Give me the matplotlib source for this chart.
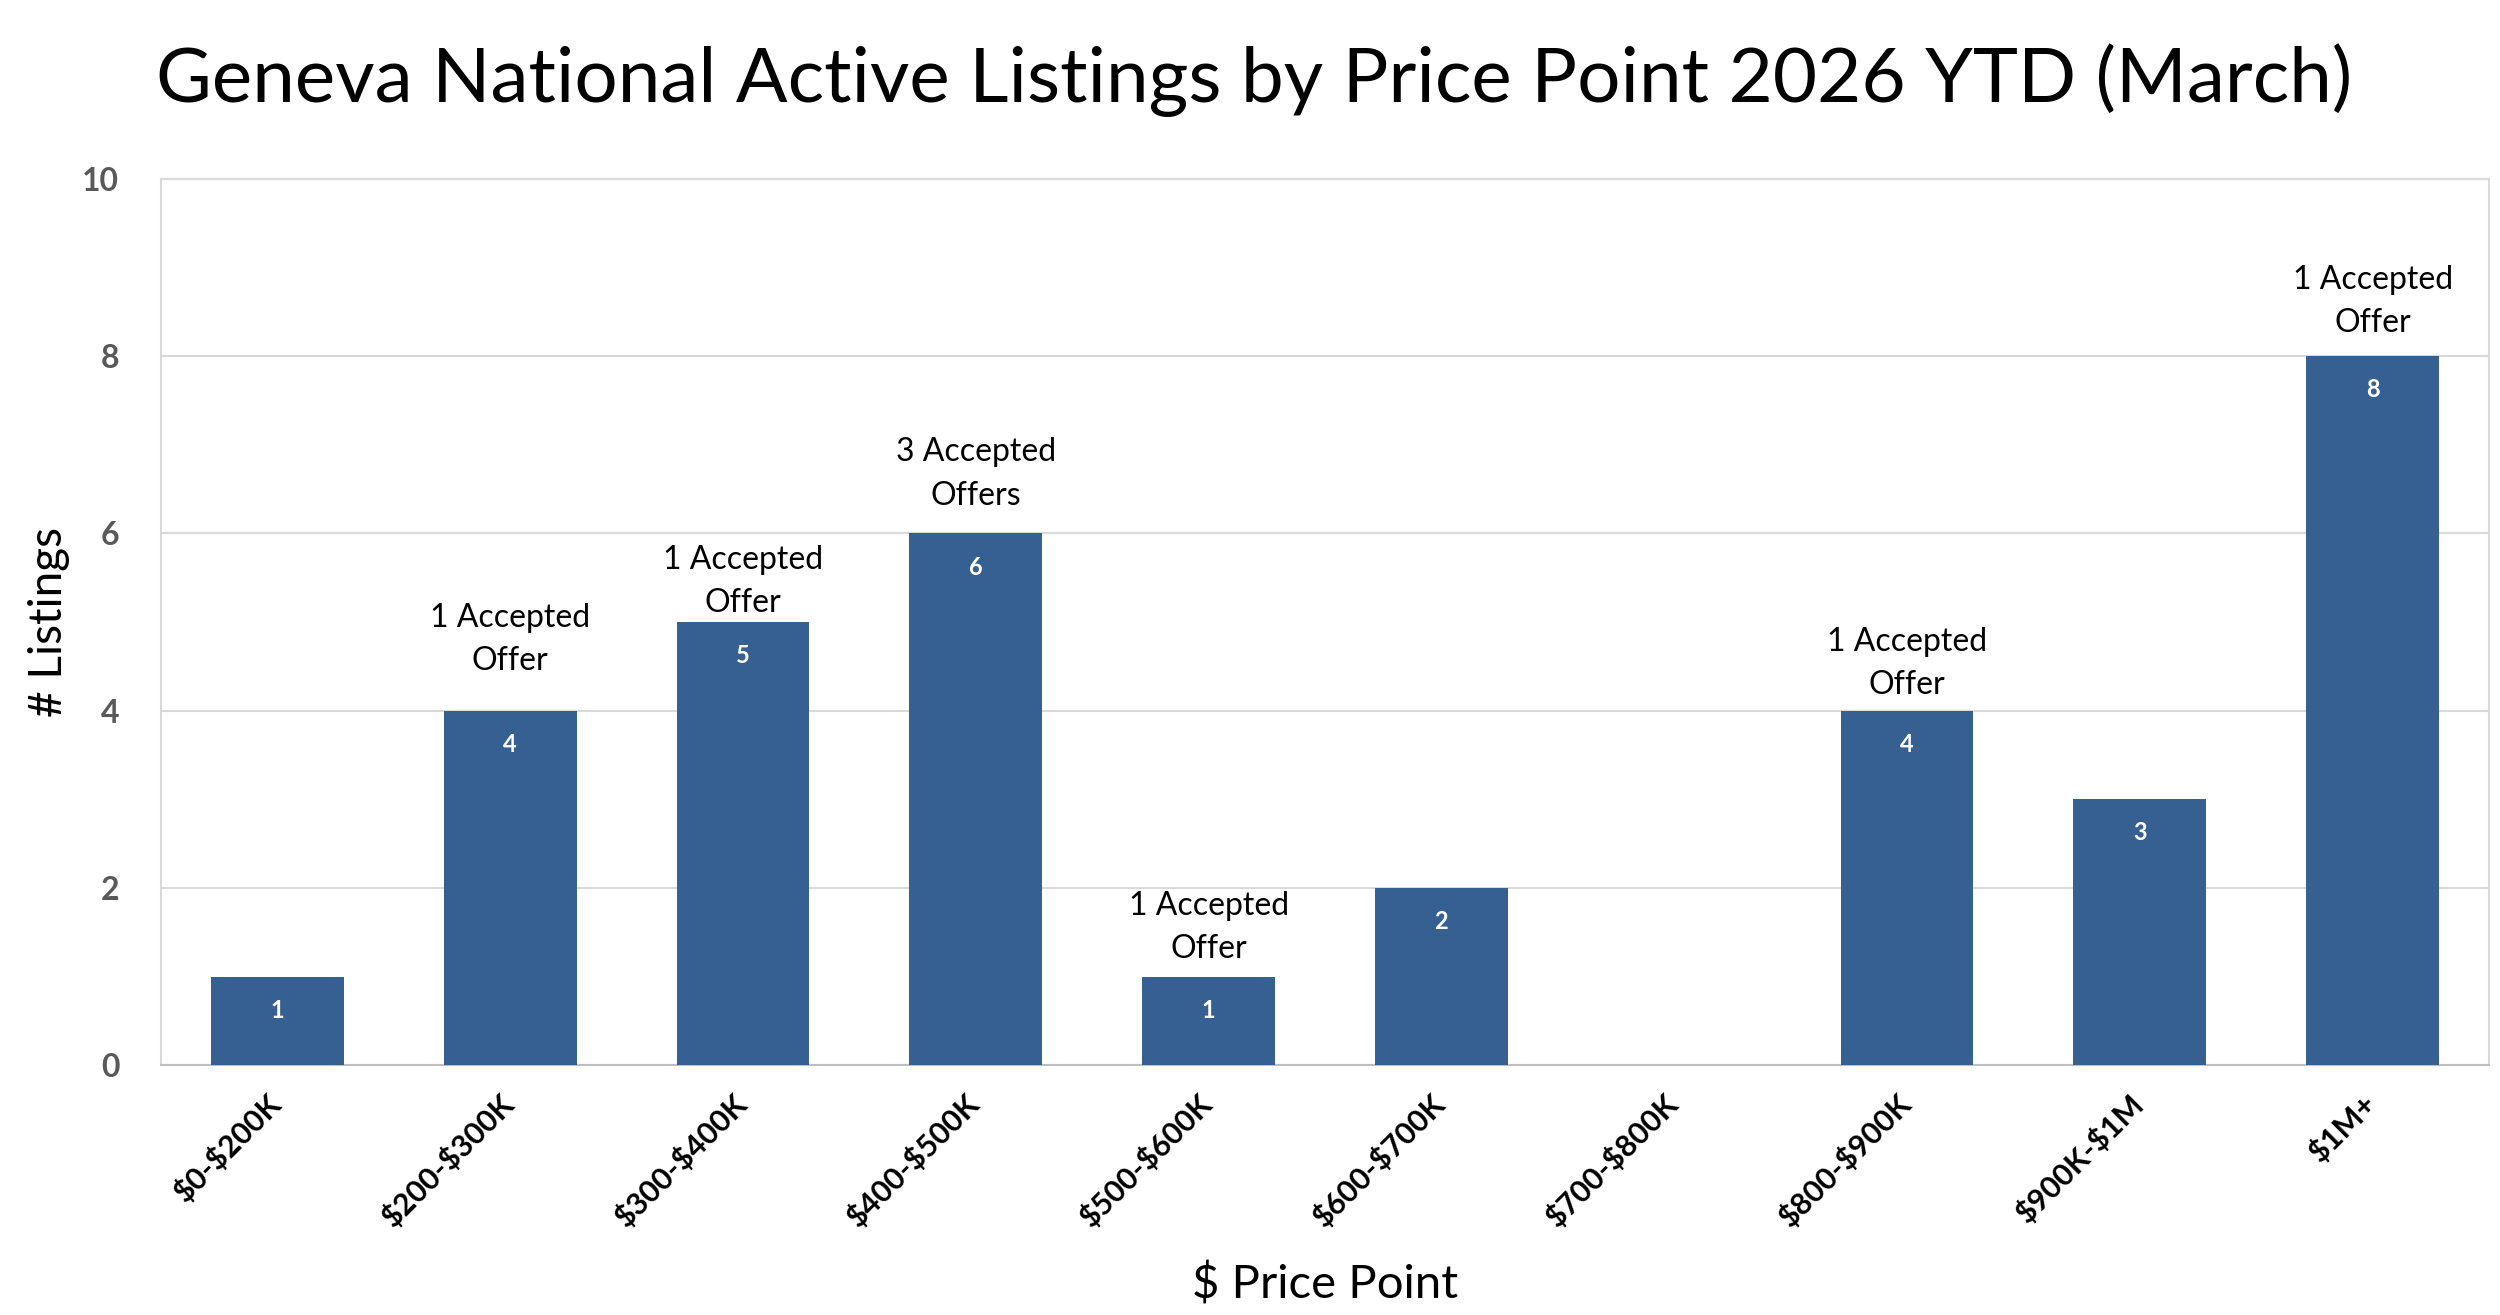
import matplotlib
matplotlib.use("Agg")
import matplotlib.pyplot as plt
import matplotlib.transforms as mtransforms

plt.rcParams['font.family'] = ['Lato', 'DejaVu Sans']
plt.rcParams['text.parse_math'] = False

# data
price_points = ["$0-$200K", "$200-$300K", "$300-$400K", "$400-$500K", "$500-$600K",
                "$600-$700K", "$700-$800K", "$800-$900K", "$900K-$1M", "$1M+"]
listings = [1, 4, 5, 6, 1, 2, 0, 4, 3, 8]
offer_notes = ["", "1 Accepted\nOffer", "1 Accepted\nOffer", "3 Accepted\nOffers",
               "1 Accepted\nOffer", "", "", "1 Accepted\nOffer", "", "1 Accepted\nOffer"]
# where each note sits (y, middle of the two lines)
note_y = [0, 4.80, 5.46, 6.67, 1.55, 0, 0, 4.53, 0, 8.62]

bar_color = "#376092"
grid_color = "#D9D9D9"

fig = plt.figure(figsize=(25, 13.15), dpi=100)
ax = fig.add_axes([0.0644, 0.190, 0.9312, 0.674])

x = list(range(len(price_points)))
bars = ax.bar(x, listings, width=0.57, color=bar_color, zorder=3)

# value labels inside bars
for xi, v in zip(x, listings):
    if v > 0:
        ax.text(xi, v - 0.38, str(v), ha='center', va='center', color='white',
                fontsize=17, fontweight='bold', zorder=4)

# accepted offer notes
for xi, note, ny in zip(x, offer_notes, note_y):
    if note:
        ax.text(xi, ny, note, ha='center', va='center', fontsize=23,
                color='black', linespacing=1.55, zorder=4)

ax.set_xlim(-0.5, len(price_points) - 0.5)
ax.set_ylim(0, 10)
ax.set_yticks([0, 2, 4, 6, 8, 10])
ax.yaxis.grid(True, color=grid_color, linewidth=1.5, zorder=0)
ax.set_axisbelow(True)

for s in ax.spines.values():
    s.set_color(grid_color)
    s.set_linewidth(1.5)
ax.spines['bottom'].set_color("#BFBFBF")

ax.tick_params(axis='both', length=0)
ax.tick_params(axis='y', pad=30, labelsize=23, labelcolor="#595959")
for lab in ax.get_yticklabels():
    lab.set_fontweight('bold')

ax.set_xticks(x)
ax.set_xticklabels(price_points, rotation=45, ha='right', rotation_mode='anchor',
                   fontsize=22, fontweight='bold')
offset = mtransforms.ScaledTranslation(-8 / 72, -14 / 72, fig.dpi_scale_trans)
for lab in ax.get_xticklabels():
    lab.set_transform(lab.get_transform() + offset)

ax.set_ylabel("# Listings", fontsize=33, labelpad=9)
ax.set_xlabel("$ Price Point", fontsize=34, labelpad=21)

fig.suptitle("Geneva National Active Listings by Price Point 2026 YTD (March)",
             fontsize=55, y=0.967, x=0.5016)

fig.savefig("out.png", dpi=100, facecolor='white')
